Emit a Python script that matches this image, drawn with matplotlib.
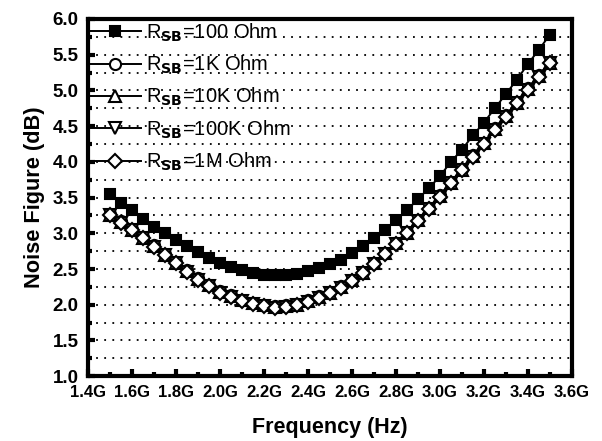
import matplotlib
matplotlib.use("Agg")
import matplotlib.pyplot as plt
from matplotlib.ticker import MultipleLocator, FuncFormatter

plt.rcParams['font.family'] = ['Liberation Sans', 'DejaVu Sans']

freq_ghz = [1.50, 1.55, 1.60, 1.65, 1.70, 1.75, 1.80, 1.85, 1.90, 1.95,
            2.00, 2.05, 2.10, 2.15, 2.20, 2.25, 2.30, 2.35, 2.40, 2.45,
            2.50, 2.55, 2.60, 2.65, 2.70, 2.75, 2.80, 2.85, 2.90, 2.95,
            3.00, 3.05, 3.10, 3.15, 3.20, 3.25, 3.30, 3.35, 3.40, 3.45, 3.50]

nf_100 = [3.55, 3.43, 3.32, 3.20, 3.09, 3.00, 2.91, 2.82, 2.74, 2.66,
          2.59, 2.53, 2.48, 2.44, 2.42, 2.41, 2.41, 2.43, 2.47, 2.51,
          2.57, 2.63, 2.72, 2.82, 2.94, 3.05, 3.18, 3.32, 3.48, 3.63,
          3.80, 4.00, 4.17, 4.37, 4.55, 4.75, 4.95, 5.15, 5.37, 5.57, 5.78]

nf_1k = [3.27, 3.17, 3.06, 2.95, 2.83, 2.71, 2.60, 2.48, 2.37, 2.28,
         2.19, 2.13, 2.07, 2.03, 2.00, 1.98, 1.99, 2.01, 2.06, 2.12,
         2.18, 2.26, 2.35, 2.46, 2.59, 2.73, 2.87, 3.02, 3.19, 3.36,
         3.53, 3.72, 3.90, 4.09, 4.27, 4.47, 4.65, 4.84, 5.03, 5.21, 5.40]

nf_10k = [3.26, 3.16, 3.05, 2.94, 2.82, 2.70, 2.59, 2.47, 2.36, 2.27,
          2.18, 2.12, 2.06, 2.02, 1.99, 1.97, 1.98, 2.00, 2.05, 2.11,
          2.17, 2.25, 2.34, 2.45, 2.58, 2.72, 2.86, 3.01, 3.18, 3.35,
          3.52, 3.71, 3.89, 4.08, 4.26, 4.46, 4.64, 4.83, 5.02, 5.20, 5.39]

nf_100k = [3.25, 3.15, 3.04, 2.93, 2.81, 2.69, 2.58, 2.46, 2.35, 2.26,
           2.17, 2.11, 2.05, 2.01, 1.98, 1.96, 1.97, 1.99, 2.04, 2.10,
           2.16, 2.24, 2.33, 2.44, 2.57, 2.71, 2.85, 3.00, 3.17, 3.34,
           3.51, 3.70, 3.88, 4.07, 4.25, 4.45, 4.63, 4.82, 5.01, 5.19, 5.38]

nf_1m = [3.25, 3.15, 3.04, 2.93, 2.81, 2.69, 2.58, 2.46, 2.35, 2.26,
         2.17, 2.11, 2.05, 2.01, 1.98, 1.96, 1.97, 1.99, 2.04, 2.10,
         2.16, 2.24, 2.33, 2.44, 2.57, 2.71, 2.85, 3.00, 3.17, 3.34,
         3.51, 3.70, 3.88, 4.07, 4.25, 4.45, 4.63, 4.82, 5.01, 5.19, 5.38]

labels = [r'R$_{\mathbf{SB}}$=100 Ohm', r'R$_{\mathbf{SB}}$=1K Ohm',
          r'R$_{\mathbf{SB}}$=10K Ohm', r'R$_{\mathbf{SB}}$=100K Ohm',
          r'R$_{\mathbf{SB}}$=1M Ohm']

fig = plt.figure(figsize=(6.02, 4.41), dpi=100)
ax = fig.add_axes([0.146, 0.147, 0.804, 0.810])

series = [nf_100, nf_1k, nf_10k, nf_100k, nf_1m]
markers = ['s', 'o', '^', 'v', 'D']
faces = ['black', 'white', 'white', 'white', 'white']
sizes = [7.5, 8, 8, 8, 7]
for ys, m, fc, ms, lab in zip(series, markers, faces, sizes, labels):
    ax.plot(freq_ghz, ys, color='black', lw=1.4, marker=m, ms=ms,
            mfc=fc, mec='black', mew=1.5, label=lab)

ax.set_xlim(1.4, 3.6)
ax.set_ylim(1.0, 6.0)
ax.xaxis.set_major_locator(MultipleLocator(0.2))
ax.xaxis.set_minor_locator(MultipleLocator(0.1))
ax.yaxis.set_major_locator(MultipleLocator(0.5))
ax.yaxis.set_minor_locator(MultipleLocator(0.25))
ax.xaxis.set_major_formatter(FuncFormatter(lambda v, p: f'{v:.1f}G'))
ax.yaxis.set_major_formatter(FuncFormatter(lambda v, p: f'{v:.1f}'))

ax.tick_params(which='both', direction='in', width=3, color='black',
               top=False, right=False)
ax.tick_params(which='major', length=5)
ax.tick_params(which='minor', length=3)
ax.tick_params(axis='x', which='major', labelsize=12, pad=6.5)
ax.tick_params(axis='y', which='major', labelsize=13.5, pad=6.5)
for t in ax.get_xticklabels() + ax.get_yticklabels():
    t.set_fontweight('bold')

ax.grid(True, which='both', axis='y', color='black', linestyle=(0, (1, 3.5)),
        linewidth=1.3)
for s in ax.spines.values():
    s.set_linewidth(3)

ax.set_xlabel('Frequency (Hz)', fontsize=15.5, fontweight='bold', labelpad=12)
ax.set_ylabel('Noise Figure (dB)', fontsize=15.7, fontweight='bold', labelpad=6)

leg = ax.legend(loc='upper left', frameon=False, fontsize=14.5,
                handlelength=2.5, handletextpad=0.25, labelspacing=0.5,
                borderaxespad=0.0, borderpad=0.12)

fig.savefig('out.png', dpi=100)
